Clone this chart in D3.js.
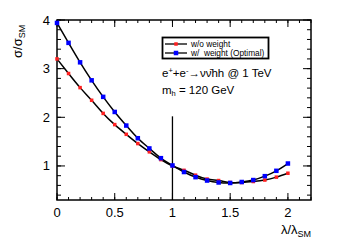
<!DOCTYPE html>
<html>
<head>
<meta charset="utf-8">
<script src="https://cdn.jsdelivr.net/npm/d3@7"></script>
<style>
body { margin:0; background:#fff; }
text { font-family: "Liberation Sans", Arial, sans-serif; white-space: pre; }
</style>
</head>
<body>
<div id="chart"></div>
<script>
// lambda / lambda_SM sample points
var lambdas = [0, 0.1, 0.2, 0.3, 0.4, 0.5, 0.6, 0.7, 0.8, 0.9, 1.0,
	1.1, 1.2, 1.3, 1.4, 1.5, 1.6, 1.7, 1.8, 1.9, 2.0];
var noWeight = [3.20, 2.90, 2.61, 2.35, 2.08, 1.85, 1.65, 1.46, 1.29, 1.13, 1.00,
	0.91, 0.81, 0.73, 0.70, 0.66, 0.66, 0.68, 0.71, 0.77, 0.85];
var optWeight = [3.94, 3.53, 3.13, 2.76, 2.42, 2.11, 1.83, 1.57, 1.36, 1.16, 1.01,
	0.875, 0.77, 0.70, 0.66, 0.65, 0.67, 0.71, 0.79, 0.90, 1.05];
var xTicks = [0, 0.5, 1, 1.5, 2];
var yTicks = [1, 2, 3, 4];
var legendNames = ["w/o weight", "w/  weight (Optimal)"];
var smLine = [0.3, 2.02]; // vertical marker at lambda = 1

var W = 338, H = 245;
var L = 57, R = 311, T = 20, B = 200;

var svg = d3.select("#chart").append("svg").attr("width", W).attr("height", H);

var x = d3.scaleLinear().domain([0, 2.2]).range([L, R]);
var y = d3.scaleLinear().domain([0.3, 4]).range([B, T]);

//MINOR TICK VALUES
var xMinor = d3.range(0, 2.21, 0.1);
var yMinor = d3.range(0.4, 4.01, 0.2);

var g = svg.append("g");

function tickMarks(vals, len, orient){
	vals.forEach(function(v){
		if (orient == "bottom") g.append("line").attr("x1", x(v)).attr("x2", x(v)).attr("y1", B).attr("y2", B - len);
		if (orient == "top") g.append("line").attr("x1", x(v)).attr("x2", x(v)).attr("y1", T).attr("y2", T + len);
		if (orient == "left") g.append("line").attr("y1", y(v)).attr("y2", y(v)).attr("x1", L).attr("x2", L + len);
		if (orient == "right") g.append("line").attr("y1", y(v)).attr("y2", y(v)).attr("x1", R).attr("x2", R - len);
	});
}
tickMarks(xMinor, 3, "bottom");
tickMarks(xMinor, 3, "top");
tickMarks(xTicks, 7, "bottom");
tickMarks(xTicks, 7, "top");
tickMarks(yMinor, 4, "left");
tickMarks(yMinor, 4, "right");
tickMarks(yTicks, 8, "left");
tickMarks(yTicks, 8, "right");
g.selectAll("line").attr("stroke", "#000").attr("stroke-width", 1);

svg.append("rect").attr("x", L).attr("y", T).attr("width", R - L).attr("height", B - T)
	.attr("fill", "none").attr("stroke", "#000").attr("stroke-width", 1.5);

//TICK LABELS
svg.selectAll(".xl").data(xTicks).enter().append("text")
	.attr("x", function(d){ return x(d); })
	.attr("y", 217)
	.attr("text-anchor", "middle")
	.attr("font-size", 13)
	.text(function(d){ return d; });
svg.selectAll(".yl").data(yTicks).enter().append("text")
	.attr("x", 50)
	.attr("y", function(d){ return y(d) + 4.5; })
	.attr("text-anchor", "end")
	.attr("font-size", 13)
	.text(function(d){ return d; });

//AXIS TITLES
var xt = svg.append("text").attr("x", R).attr("y", 234).attr("text-anchor", "end").attr("font-size", 13);
xt.append("tspan").text("λ/λ");
xt.append("tspan").attr("font-size", 9).attr("dy", 3).text("SM");

var yt = svg.append("text").attr("transform", "translate(22,58) rotate(-90)").attr("font-size", 13);
yt.append("tspan").text("σ/σ");
yt.append("tspan").attr("font-size", 9).attr("dy", 3).text("SM");

//SM REFERENCE LINE
svg.append("line").attr("x1", x(1)).attr("x2", x(1)).attr("y1", y(smLine[0])).attr("y2", y(smLine[1]))
	.attr("stroke", "#000").attr("stroke-width", 1.3);

//CURVES AND MARKERS
var series = [
	{name: legendNames[0], values: noWeight, color: "#ff2020", size: 3.5},
	{name: legendNames[1], values: optWeight, color: "#0000ff", size: 4.5}
];
var line = d3.line()
	.x(function(d){ return x(d[0]); })
	.y(function(d){ return y(d[1]); })
	.curve(d3.curveNatural);

series.forEach(function(s){
	var pts = lambdas.map(function(l, i){ return [l, s.values[i]]; });
	svg.append("path").datum(pts).attr("d", line)
		.attr("fill", "none").attr("stroke", "#000").attr("stroke-width", 1.5);
});
series.forEach(function(s){
	var pts = lambdas.map(function(l, i){ return [l, s.values[i]]; });
	svg.selectAll(null).data(pts).enter().append("rect")
		.attr("x", function(d){ return x(d[0]) - s.size / 2; })
		.attr("y", function(d){ return y(d[1]) - s.size / 2; })
		.attr("width", s.size).attr("height", s.size)
		.attr("fill", s.color);
});

//LEGEND
var lg = svg.append("g");
lg.append("rect").attr("x", 162.5).attr("y", 37.5).attr("width", 106).attr("height", 21)
	.attr("fill", "#fff").attr("stroke", "#000").attr("stroke-width", 1.8);
series.forEach(function(s, i){
	var ly = 44 + i * 9;
	lg.append("line").attr("x1", 165).attr("x2", 187).attr("y1", ly).attr("y2", ly)
		.attr("stroke", "#000").attr("stroke-width", 1.3);
	lg.append("rect").attr("x", 176 - s.size / 2).attr("y", ly - s.size / 2)
		.attr("width", s.size).attr("height", s.size).attr("fill", s.color);
	lg.append("text").attr("x", 191).attr("y", ly + 2.8).attr("font-size", 8.3).text(s.name);
});

//ANNOTATIONS
var t1 = svg.append("text").attr("x", 162).attr("y", 77).attr("font-size", 11.5);
t1.append("tspan").text("e");
t1.append("tspan").attr("font-size", 7.5).attr("dy", -4).text("+");
t1.append("tspan").attr("dy", 4).text("+e");
t1.append("tspan").attr("font-size", 7.5).attr("dy", -4).text("-");
t1.append("tspan").attr("dy", 4).text("→νν̄hh @ 1 TeV");

var t2 = svg.append("text").attr("x", 162).attr("y", 94).attr("font-size", 11.5);
t2.append("tspan").text("m");
t2.append("tspan").attr("font-size", 7.5).attr("dy", 2).text("h");
t2.append("tspan").attr("dy", -2).text(" = 120 GeV");
</script>
</body>
</html>
